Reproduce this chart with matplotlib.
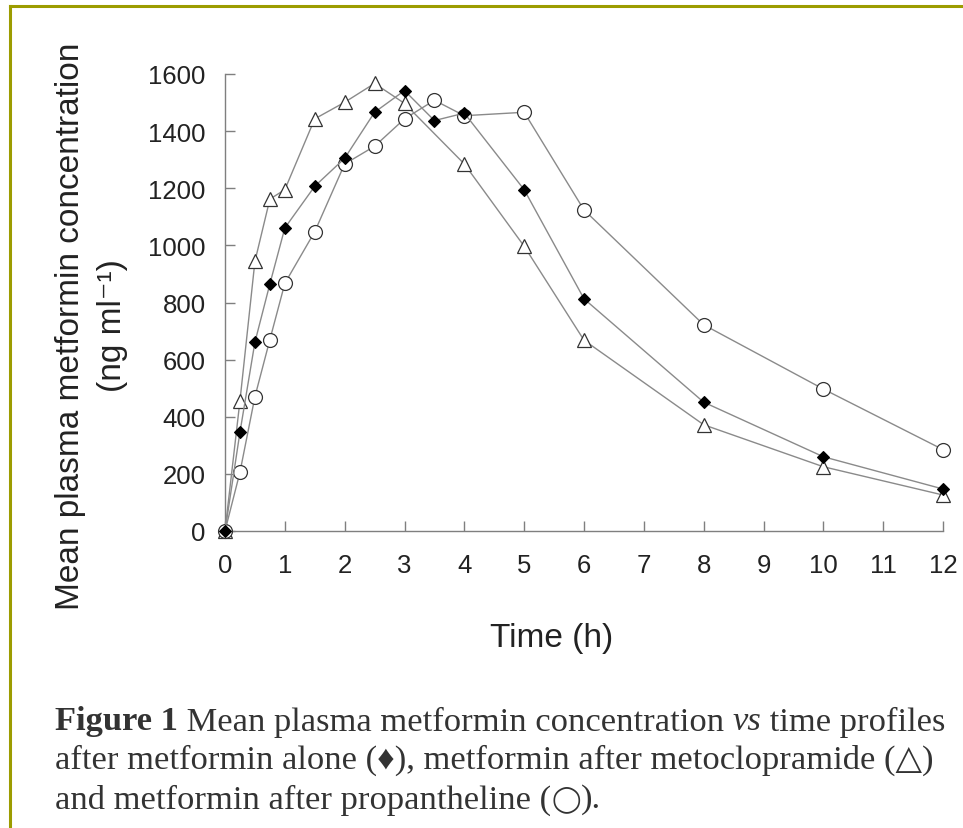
import numpy as np
import matplotlib
matplotlib.use("Agg")
import matplotlib.pyplot as plt
from matplotlib.lines import Line2D

# mean plasma metformin concentration (ng/ml)
t_alone = [0, 0.25, 0.5, 0.75, 1, 1.5, 2, 2.5, 3, 3.5, 4, 5, 6, 8, 10, 12]
c_alone = [0, 346, 661, 865, 1061, 1207, 1305, 1466, 1542, 1437, 1463, 1195, 813, 451, 260, 147]

t_meto = [0, 0.25, 0.5, 0.75, 1, 1.5, 2, 2.5, 3, 4, 5, 6, 8, 10, 12]
c_meto = [0, 456, 944, 1162, 1195, 1443, 1501, 1567, 1497, 1285, 997, 668, 372, 225, 126]

t_prop = [0, 0.25, 0.5, 0.75, 1, 1.5, 2, 2.5, 3, 3.5, 4, 5, 6, 8, 10, 12]
c_prop = [0, 206, 470, 670, 867, 1048, 1285, 1347, 1443, 1508, 1454, 1466, 1124, 722, 497, 285]

yticks = list(range(0, 1601, 200))
xticks = list(range(0, 13))

W, H = 963, 829
fig = plt.figure(figsize=(W / 100, H / 100), dpi=100)
fig.patch.set_facecolor("white")

# olive frame (top + left only)
OLIVE = "#9c9c00"
fig.add_artist(Line2D([10 / W, 1], [1 - 7 / H, 1 - 7 / H], color=OLIVE, lw=2.2,
                      transform=fig.transFigure))
fig.add_artist(Line2D([10 / W, 10 / W], [0, 1 - 7 / H], color=OLIVE, lw=2.2,
                      transform=fig.transFigure))

ax = fig.add_axes([225 / W, 1 - 532 / H, (943 - 225) / W, 457 / H])
LINE = "#8a8a8a"
ax.plot(t_meto, c_meto, color=LINE, lw=1.0, marker="^", ms=10, mfc="white",
        mec="#333333", mew=0.9, clip_on=False, zorder=3)
ax.plot(t_prop, c_prop, color=LINE, lw=1.0, marker="o", ms=10, mfc="white",
        mec="#333333", mew=0.9, clip_on=False, zorder=3)
ax.plot(t_alone, c_alone, color=LINE, lw=1.0, marker="D", ms=6.5, mfc="black",
        mec="black", mew=0.8, clip_on=False, zorder=4)

ax.set_xlim(0, 12)
ax.set_ylim(0, 1600)
ax.set_xticks(xticks)
ax.set_yticks(yticks)
ax.spines[["top", "right"]].set_visible(False)
for s in ("left", "bottom"):
    ax.spines[s].set_color("#7f7f7f")
    ax.spines[s].set_linewidth(1.0)
ax.tick_params(direction="in", length=7, width=1.0, color="#7f7f7f",
               labelsize=18.5, labelcolor="#222222")
ax.tick_params(axis="x", pad=16)
ax.tick_params(axis="y", pad=14)
for lab in ax.get_xticklabels() + ax.get_yticklabels():
    lab.set_family("Liberation Sans")

SANS = ["Liberation Sans", "DejaVu Sans"]
fig.text(71 / W, 1 - 326 / H, "Mean plasma metformin concentration", rotation=90,
         ha="center", va="center", fontsize=24, family=SANS, color="#222222")
fig.text(113 / W, 1 - 326 / H, "(ng ml\u207b\u00b9)", rotation=90,
         ha="center", va="center", fontsize=24, family=SANS, color="#222222")
fig.text(552 / W, 1 - 639 / H, "Time (h)", ha="center", va="center",
         fontsize=24, family=SANS, color="#222222")

# caption, built piece by piece so bold / italic parts sit inline
SERIF = ["Liberation Serif", "DejaVu Sans"]
CAP = 24.8
renderer = fig.canvas.get_renderer()


def caption_line(y_px, pieces):
    x = 55 / W
    for txt, kw in pieces:
        fam = kw.pop("family", SERIF)
        size = kw.pop("size", CAP)
        t = fig.text(x, 1 - y_px / H, txt, fontsize=size, family=fam,
                     color="#333333", va="center", **kw)
        bb = t.get_window_extent(renderer)
        x += bb.width / W


caption_line(722, [("Figure 1", dict(weight="bold")),
                   (" Mean plasma metformin concentration ", {}),
                   ("vs", dict(style="italic")),
                   (" time profiles", {})])
caption_line(760, [("after metformin alone (\u2666), metformin after metoclopramide (\u25b3)", {})])
caption_line(800, [("and metformin after propantheline (", {}),
                   ("\u25ef", dict(family=["DejaVu Sans"], size=19)),
                   (").", {})])

fig.savefig("out.png", dpi=100)
